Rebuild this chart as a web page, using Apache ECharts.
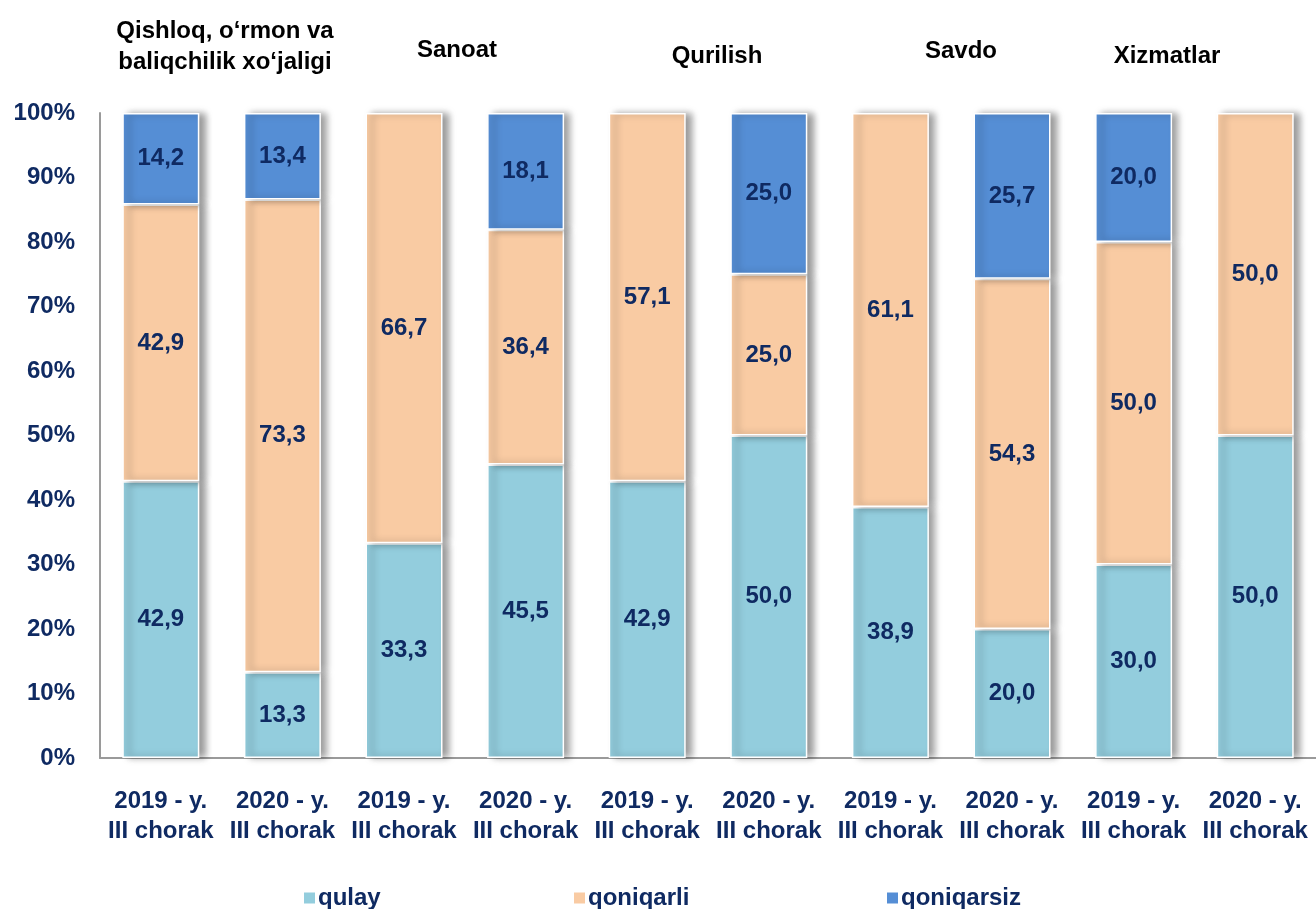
<!DOCTYPE html>
<html>
<head>
<meta charset="utf-8">
<script src="https://cdn.jsdelivr.net/npm/echarts@6/dist/echarts.min.js"></script>
<style>
    html, body { margin: 0; padding: 0; background: #fff; }
    #chart { width: 1316px; height: 909px; }
</style>
</head>
<body>
<div id="chart"></div>
<script>
// data
let categories = ['2019 - y.\nIII chorak', '2020 - y.\nIII chorak', '2019 - y.\nIII chorak', '2020 - y.\nIII chorak',
    '2019 - y.\nIII chorak', '2020 - y.\nIII chorak', '2019 - y.\nIII chorak', '2020 - y.\nIII chorak',
    '2019 - y.\nIII chorak', '2020 - y.\nIII chorak'];
let qulay = [42.9, 13.3, 33.3, 45.5, 42.9, 50.0, 38.9, 20.0, 30.0, 50.0];
let qoniqarli = [42.9, 73.3, 66.7, 36.4, 57.1, 25.0, 61.1, 54.3, 50.0, 50.0];
let qoniqarsiz = [14.2, 13.4, null, 18.1, null, 25.0, null, 25.7, 20.0, null];
let sectors = ['Qishloq, o‘rmon va\nbaliqchilik xo‘jaligi', 'Sanoat', 'Qurilish', 'Savdo', 'Xizmatlar'];
let sectorX = [220, 452, 712, 956, 1162];
let sectorY = [11, 30, 36, 31, 36];
let legendNames = ['qulay', 'qoniqarli', 'qoniqarsiz'];
let legendX = [297, 567, 880];

let navy = '#0F2A62';
let font = 'Liberation Sans';

let myChart = echarts.init(document.getElementById('chart'));

function makeSeries(name, data, color) {
    return {
        name: name,
        type: 'bar',
        stack: 'total',
        data: data,
        barWidth: 77,
        itemStyle: {
            color: color,
            borderColor: '#fff',
            borderWidth: 1.5,
            shadowColor: 'rgba(0,0,0,0.4)',
            shadowBlur: 7,
            shadowOffsetX: 6,
            shadowOffsetY: 0
        },
        label: {
            show: true,
            position: 'inside',
            color: navy,
            fontFamily: font,
            fontWeight: 'bold',
            fontSize: 24,
            formatter: function (p) {
                if (p.value == null) return '';
                return p.value.toFixed(1).replace('.', ',');
            }
        }
    };
}

let titles = [];
for (let i = 0; i < sectors.length; i++) {
    titles.push({
        text: sectors[i],
        left: sectorX[i],
        top: sectorY[i],
        textAlign: 'center',
        textStyle: {
            color: '#000',
            fontFamily: font,
            fontWeight: 'bold',
            fontSize: 24,
            lineHeight: 31
        }
    });
}

let legends = [];
for (let i = 0; i < legendNames.length; i++) {
    legends.push({
        bottom: -6,
        left: legendX[i],
        itemWidth: 13,
        itemHeight: 13,
        icon: 'rect',
        textStyle: {
            color: navy,
            fontFamily: font,
            fontWeight: 'bold',
            fontSize: 24,
            padding: [0, 0, 0, -3]
        },
        data: [legendNames[i]]
    });
}

let option = {
    animation: false,
    title: titles,
    legend: legends,
    grid: {
        left: 100,
        top: 113,
        width: 1225,
        bottom: 151,
        containLabel: false
    },
    xAxis: {
        type: 'category',
        data: categories,
        axisLine: { lineStyle: { color: '#9a9a9a', width: 2 } },
        axisTick: { show: false },
        axisLabel: {
            interval: 0,
            margin: 28,
            color: navy,
            fontFamily: font,
            fontWeight: 'bold',
            fontSize: 24,
            lineHeight: 30
        }
    },
    yAxis: {
        type: 'value',
        min: 0,
        max: 100,
        interval: 10,
        axisLine: { show: true, lineStyle: { color: '#9a9a9a', width: 2 } },
        axisTick: { show: false },
        splitLine: { show: false },
        axisLabel: {
            margin: 25,
            color: navy,
            fontFamily: font,
            fontWeight: 'bold',
            fontSize: 24,
            formatter: '{value}%'
        }
    },
    series: [
        makeSeries('qulay', qulay, '#93CDDD'),
        makeSeries('qoniqarli', qoniqarli, '#F9CBA3'),
        makeSeries('qoniqarsiz', qoniqarsiz, '#558ED5')
    ]
};

myChart.setOption(option);
</script>
</body>
</html>
